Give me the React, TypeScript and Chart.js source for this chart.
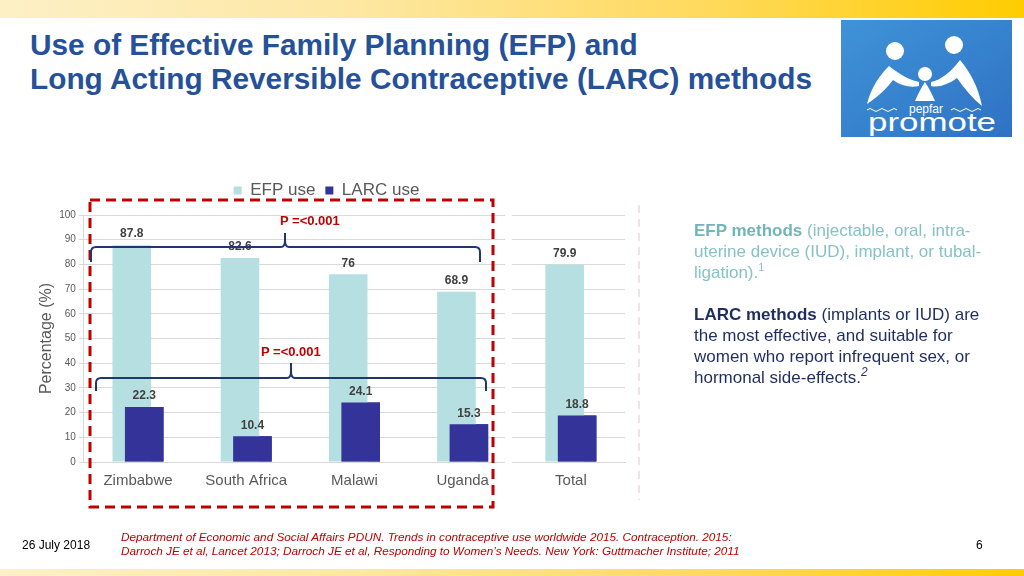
import React, { useEffect, useRef } from "react";
import { Chart, registerables } from "chart.js";

Chart.register(...registerables);

const categories = ["Zimbabwe", "South Africa", "Malawi", "Uganda", "Total"];
const efpValues = [87.8, 82.6, 76, 68.9, 79.9];
const larcValues = [22.3, 10.4, 24.1, 15.3, 18.8];
const seriesNames = ["EFP use", "LARC use"];
const yTicks = [0, 10, 20, 30, 40, 50, 60, 70, 80, 90, 100];

const FONT = "'Liberation Sans', Arial, Helvetica, sans-serif";
const GRAY = "#595959";

const legendSpacing = {
  id: "legendSpacing",
  beforeInit(chart: any) {
    const legend = chart.legend;
    if (!legend) return;
    const origFit = legend.fit;
    legend.fit = function () {
      origFit.call(this);
      this.height += 6;
    };
  },
};

const labelPlugin = {
  id: "barLabels",
  afterDatasetsDraw(chart: any) {
    const ctx = chart.ctx;
    // LARC bars overlap the EFP bars: redraw them on top
    const larcMeta = chart.getDatasetMeta(1);
    if (larcMeta && larcMeta.controller) {
      ctx.save();
      larcMeta.controller.draw();
      ctx.restore();
    }
    ctx.save();
    ctx.font = `bold 12px ${FONT}`;
    ctx.fillStyle = "#404040";
    ctx.textAlign = "center";
    ctx.textBaseline = "bottom";
    chart.data.datasets.forEach((ds: any, di: number) => {
      const meta = chart.getDatasetMeta(di);
      meta.data.forEach((el: any, i: number) => {
        ctx.fillText(String(ds.data[i]), el.x, el.y - 5);
      });
    });
    ctx.restore();
  },
};

function BarChart() {
  const ref = useRef<HTMLCanvasElement | null>(null);
  useEffect(() => {
    if (!ref.current) return;
    const chart = new Chart(ref.current, {
      type: "bar",
      data: {
        labels: categories,
        datasets: [
          {
            label: seriesNames[0],
            data: efpValues,
            backgroundColor: "#b6dfe1",
            categoryPercentage: 0.23,
            barPercentage: 3.1,
          },
          {
            label: seriesNames[1],
            data: larcValues,
            backgroundColor: "#333399",
            categoryPercentage: 0.23,
            barPercentage: 3.1,
          },
        ],
      },
      options: {
        animation: false,
        responsive: true,
        maintainAspectRatio: false,
        layout: { padding: { left: 0, right: 15, top: 0, bottom: 0 } },
        plugins: {
          tooltip: { enabled: false },
          legend: {
            position: "top",
            labels: {
              boxWidth: 8,
              boxHeight: 8,
              color: GRAY,
              font: { family: FONT, size: 17 },
              padding: 10,
            },
          },
        },
        scales: {
          x: {
            grid: { display: false },
            border: { display: true, color: "#d9d9d9" },
            ticks: { color: GRAY, font: { family: FONT, size: 15 }, padding: 2 },
          },
          y: {
            min: 0,
            max: 100,
            afterBuildTicks(axis: any) {
              axis.ticks = yTicks.map((v) => ({ value: v }));
            },
            grid: { color: "#d9d9d9", tickLength: 5 },
            border: { display: true, color: "#d9d9d9" },
            ticks: { color: GRAY, font: { family: FONT, size: 10 }, padding: 3 },
            title: {
              display: true,
              text: "Percentage (%)",
              color: GRAY,
              font: { family: FONT, size: 16 },
              padding: { top: 9, bottom: 0 },
            },
          },
        },
      },
      plugins: [legendSpacing, labelPlugin],
    } as any);
    return () => chart.destroy();
  }, []);
  return <canvas ref={ref} />;
}

function Logo() {
  return (
    <svg
      style={{ position: "absolute", left: 841, top: 20 }}
      width={171}
      height={117}
      viewBox="0 0 171 117"
    >
      <defs>
        <linearGradient id="lg" x1="0" y1="0" x2="1" y2="1">
          <stop offset="0" stopColor="#3f93d8" />
          <stop offset="1" stopColor="#2f72c4" />
        </linearGradient>
      </defs>
      <rect x="0" y="0" width="171" height="117" fill="url(#lg)" />
      <circle cx="54" cy="31" r="9" fill="#fff" />
      <circle cx="113" cy="25" r="9" fill="#fff" />
      <circle cx="84" cy="54" r="7" fill="#fff" />
      <path d="M48 46 C 38 56, 30 68, 26 84 C 38 76, 46 68, 52 60 C 60 66, 70 68, 78 66 L 78 62 C 68 60, 58 54, 48 46 Z" fill="#fff" />
      <path d="M119 40 C 129 52, 137 66, 141 86 C 131 78, 123 68, 116 58 C 108 64, 98 68, 90 66 L 90 62 C 100 60, 110 52, 119 40 Z" fill="#fff" />
      <path d="M84 62 C 80 68, 77 74, 74 81 L 94 81 C 91 74, 88 68, 84 62 Z" fill="#fff" />
      <text x="85" y="93" textAnchor="middle" fill="#fff" fontFamily={FONT} fontSize="12">pepfar</text>
      <path d="M26 90 q 3 -3 6 0 t 6 0 t 6 0 t 6 0 t 6 0" stroke="#fff" strokeWidth="1" fill="none" />
      <path d="M110 90 q 3 -3 6 0 t 6 0 t 6 0 t 6 0 t 6 0" stroke="#fff" strokeWidth="1" fill="none" />
      <text x="27" y="111" fill="#fff" fontFamily={FONT} fontSize="26" textLength="128" lengthAdjust="spacingAndGlyphs">promote</text>
    </svg>
  );
}

const sup: React.CSSProperties = { position: "relative", top: -7, lineHeight: 0 };

export default function App() {
  const grad = "linear-gradient(to right, #fdf0c6 0%, #fde7a2 35%, #ffd95a 70%, #ffcc00 100%)";
  return (
    <div
      style={{
        position: "fixed",
        left: 0,
        top: 0,
        width: 1024,
        height: 576,
        background: "#fff",
        overflow: "hidden",
        fontFamily: FONT,
      }}
    >
      <div style={{ position: "absolute", left: 0, top: 0, width: 1024, height: 18, background: grad }} />
      <div style={{ position: "absolute", left: 0, top: 569, width: 1024, height: 7, background: grad }} />
      <div
        style={{
          position: "absolute",
          left: 30,
          top: 28,
          color: "#25509a",
          fontWeight: "bold",
          fontSize: 29.8,
          lineHeight: "34px",
          whiteSpace: "nowrap",
        }}
      >
        Use of Effective Family Planning (EFP) and
        <br />
        Long Acting Reversible Contraceptive (LARC) methods
      </div>
      <Logo />
      <div style={{ position: "absolute", left: 28, top: 172, width: 612, height: 320 }}>
        <BarChart />
      </div>
      <div style={{ position: "absolute", left: 505, top: 208, width: 7, height: 256, background: "#fff" }} />
      <svg style={{ position: "absolute", left: 0, top: 0 }} width={1024} height={576}>
        <rect x="90" y="200" width="403" height="307" fill="none" stroke="#c00000" strokeWidth="3" strokeDasharray="10 6" />
        <line x1="639" y1="205" x2="639" y2="500" stroke="#e2c4cc" strokeWidth="1" strokeDasharray="8 6" />
        <path d="M91 262 L91 252 Q91 247 96 247 L281 247 Q285 247 285 240 L285 233 L285 240 Q285 247 289 247 L475 247 Q480 247 480 252 L480 262" fill="none" stroke="#1f3672" strokeWidth="2" />
        <path d="M96 391 L96 383 Q96 378 101 378 L287 378 Q291 378 291 371 L291 363 L291 371 Q291 378 295 378 L481 378 Q486 378 486 383 L486 391" fill="none" stroke="#1f3672" strokeWidth="2" />
        <text x="280" y="225" fill="#c00000" fontFamily={FONT} fontWeight="bold" fontSize="13">P =&lt;0.001</text>
        <text x="261" y="356" fill="#c00000" fontFamily={FONT} fontWeight="bold" fontSize="13">P =&lt;0.001</text>
      </svg>
      <div style={{ position: "absolute", left: 694, top: 220, width: 330, fontSize: 17, lineHeight: "21px", whiteSpace: "nowrap" }}>
        <div style={{ color: "#86c2c5" }}>
          <b style={{ color: "#72b5b9" }}>EFP methods</b> (injectable, oral, intra-
          <br />
          uterine device (IUD), implant, or tubal-
          <br />
          ligation).<span style={{ ...sup, fontSize: 11 }}>1</span>
        </div>
        <div style={{ height: 21 }} />
        <div style={{ color: "#1f2d5f" }}>
          <b>LARC methods</b> (implants or IUD) are
          <br />
          the most effective, and suitable for
          <br />
          women who report infrequent sex, or
          <br />
          hormonal side-effects.<span style={{ ...sup, fontSize: 12, fontStyle: "italic" }}>2</span>
        </div>
      </div>
      <div style={{ position: "absolute", left: 22, top: 538, fontSize: 12, color: "#000" }}>26 July 2018</div>
      <div
        style={{
          position: "absolute",
          left: 121,
          top: 530,
          fontSize: 11.75,
          lineHeight: "13.5px",
          color: "#c00000",
          fontStyle: "italic",
          whiteSpace: "nowrap",
        }}
      >
        Department of Economic and Social Affairs PDUN. Trends in contraceptive use worldwide 2015. Contraception. 2015:
        <br />
        Darroch JE et al, Lancet 2013; Darroch JE et al, Responding to Women’s Needs. New York: Guttmacher Institute; 2011
      </div>
      <div style={{ position: "absolute", left: 976, top: 538, fontSize: 12, color: "#000" }}>6</div>
    </div>
  );
}
